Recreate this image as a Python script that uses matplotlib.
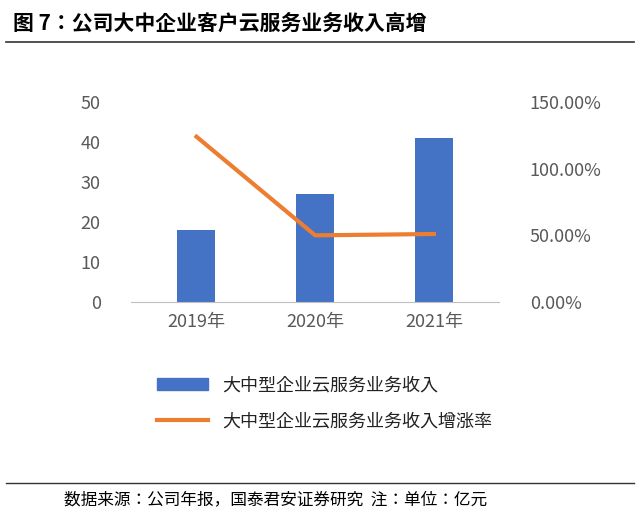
import matplotlib
matplotlib.use("Agg")
import matplotlib.pyplot as plt
from matplotlib.lines import Line2D
from matplotlib import font_manager as fm

names = {f.name for f in fm.fontManager.ttflist}
cjk = [n for n in ["Noto Sans CJK SC", "Noto Sans CJK JP", "Noto Sans CJK TC", "Noto Sans CJK KR"] if n in names]
if not cjk:
    cjk = [n for n in names if "CJK" in n]
plt.rcParams["font.family"] = "sans-serif"
plt.rcParams["font.sans-serif"] = cjk + ["DejaVu Sans"]

years = ["2019年", "2020年", "2021年"]
revenue = [18, 27, 41]
growth = [124, 50, 51]
left_ticks = [0, 10, 20, 30, 40, 50]
right_ticks = [0, 50, 100, 150]
right_labels = ["0.00%", "50.00%", "100.00%", "150.00%"]

fig = plt.figure(figsize=(6.4, 5.18), dpi=100)
ax = fig.add_axes([0.205, 0.417, 0.575, 0.386])
ax2 = ax.twinx()
x = range(len(years))
ax.bar(x, revenue, width=0.32, color="#4472C4", zorder=2)
ax2.plot(x, growth, color="#ED7D31", lw=3, zorder=3)
ax.set_xlim(-0.55, 2.55)
ax.set_ylim(0, 50)
ax2.set_ylim(0, 150)
ax.set_yticks(left_ticks)
ax2.set_yticks(right_ticks)
ax2.set_yticklabels(right_labels)
ax.set_xticks(list(x))
ax.set_xticklabels(years)
for a in (ax, ax2):
    for s in ["top", "left", "right"]:
        a.spines[s].set_visible(False)
    a.tick_params(length=0, labelsize=13, colors="#595959")
ax.spines["bottom"].set_visible(False)
ax2.spines["bottom"].set_color("#BFBFBF")
ax.tick_params(axis="y", pad=22)
ax2.tick_params(axis="y", pad=22)
ax.tick_params(axis="x", pad=8)

handles = [plt.Rectangle((0, 0), 1, 1, color="#4472C4"),
           Line2D([0], [0], color="#ED7D31", lw=3)]
fig.legend(handles, ["大中型企业云服务业务收入", "大中型企业云服务业务收入增涨率"],
           loc="upper left", bbox_to_anchor=(0.22, 0.305), frameon=False,
           fontsize=13, labelcolor="#222222", handlelength=2.8, labelspacing=1.0)

fig.text(0.02, 0.955, "图 7：公司大中企业客户云服务业务收入高增", fontsize=15,
         fontweight="bold", va="center")
fig.add_artist(Line2D([0.01, 0.99], [0.918, 0.918], color="#333333", lw=1.2))
fig.add_artist(Line2D([0.01, 0.99], [0.067, 0.067], color="#333333", lw=1))
fig.text(0.10, 0.035, "数据来源：公司年报，国泰君安证券研究  注：单位：亿元",
         fontsize=12, va="center")
fig.savefig("out.png", dpi=100, facecolor="white")
